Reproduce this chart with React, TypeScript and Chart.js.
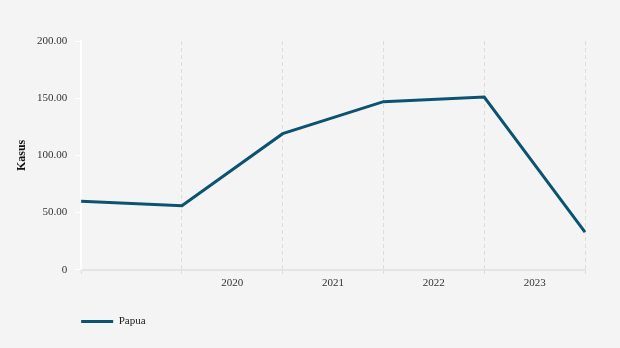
import { useEffect, useRef } from 'react';
import { Chart, registerables } from 'chart.js';

Chart.register(...registerables);

const categories = ['', '2020', '2021', '2022', '2023', ''];
const papua = [60, 56, 119, 147, 151, 33];
const yTicks = [0, 50, 100, 150, 200];
const seriesName = 'Papua';
const axisTitle = 'Kasus';

const LINE_COLOR = '#0b5370';
const SERIF = '"Liberation Serif", "Times New Roman", serif';

const legendAlign = {
  id: 'legendAlign',
  afterLayout(chart: any) {
    const lg = chart.legend;
    if (!lg) return;
    const pad = lg.options.labels.padding;
    const shift = chart.chartArea.left - (lg.left + pad);
    lg.left += shift;
    lg.right += shift;
  },
};

export default function App() {
  const ref = useRef<HTMLCanvasElement | null>(null);

  useEffect(() => {
    if (!ref.current) return;
    Chart.defaults.font.family = SERIF;
    const chart = new Chart(ref.current, {
      type: 'line',
      data: {
        labels: categories,
        datasets: [
          {
            label: seriesName,
            data: papua,
            borderColor: LINE_COLOR,
            backgroundColor: LINE_COLOR,
            borderWidth: 3,
            pointRadius: 0,
            pointHoverRadius: 0,
            tension: 0,
            fill: false,
          },
        ],
      },
      options: {
        responsive: false,
        animation: false,
        layout: { padding: { top: 41, right: 35, bottom: 11, left: 8 } },
        plugins: {
          tooltip: { enabled: false },
          legend: {
            position: 'bottom',
            align: 'start',
            labels: {
              boxWidth: 32,
              boxHeight: 3,
              padding: 23,
              color: '#222',
              font: { size: 11, family: SERIF },
              generateLabels: (chart: any) =>
                chart.data.datasets.map((ds: any, i: number) => ({
                  text: ds.label,
                  fillStyle: ds.borderColor,
                  strokeStyle: ds.borderColor,
                  lineWidth: 0,
                  hidden: false,
                  datasetIndex: i,
                  fontColor: '#222',
                })),
            },
          },
        },
        scales: {
          x: {
            type: 'category',
            offset: false,
            grid: {
              display: true,
              color: '#dcdcdc',
              lineWidth: 1,
              drawTicks: true,
              tickLength: 4,
              tickColor: '#dcdcdc',
            },
            border: { display: true, color: '#e4e4e4', width: 2, dash: [4, 3] },
            ticks: {
              autoSkip: false,
              maxRotation: 0,
              minRotation: 0,
              labelOffset: 50.4,
              padding: 3,
              color: '#333',
              font: { size: 11, family: SERIF },
            },
          },
          y: {
            min: 0,
            max: 200,
            afterBuildTicks: (scale: any) => {
              scale.ticks = yTicks.map((v) => ({ value: v }));
            },
            grid: {
              display: true,
              drawOnChartArea: false,
              drawTicks: true,
              tickLength: 6,
              tickColor: '#ffffff',
              color: '#ffffff',
            },
            border: { display: true, color: '#ffffff', width: 2 },
            ticks: {
              padding: 8,
              color: '#333',
              font: { size: 11, family: SERIF },
              callback: (v: any) => (Number(v) === 0 ? '0' : Number(v).toFixed(2)),
            },
            title: {
              display: true,
              text: axisTitle,
              color: '#111',
              font: { size: 12, weight: 'bold', family: SERIF },
              padding: { top: 6.5, bottom: 0 },
            },
          },
        },
      },
      plugins: [legendAlign],
    } as any);
    return () => chart.destroy();
  }, []);

  return (
    <div
      style={{
        position: 'fixed',
        left: 0,
        top: 0,
        width: 620,
        height: 348,
        background: '#f4f4f4',
      }}
    >
      <canvas ref={ref} width={620} height={348} style={{ display: 'block' }} />
    </div>
  );
}
